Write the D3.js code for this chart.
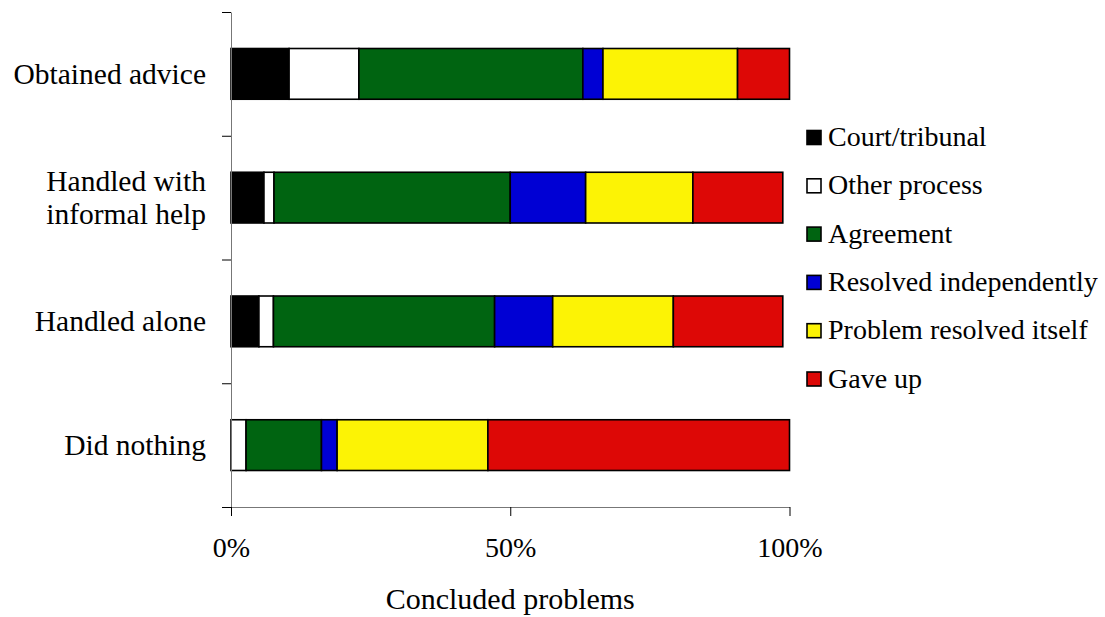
<!DOCTYPE html>
<html>
<head>
<meta charset="utf-8">
<script src="https://cdn.jsdelivr.net/npm/d3@7"></script>
<style>
  html, body { margin: 0; padding: 0; background: #fff; }
  svg text { font-family: "Liberation Serif", "Times New Roman", serif; fill: #000; }
</style>
</head>
<body>
<svg id="chart" width="1105" height="617"></svg>
<script>
// How concluded problems ended, by the strategy people used (percent of problems)
const categories = ["Obtained advice", "Handled with informal help", "Handled alone", "Did nothing"];
const seriesNames = ["Court/tribunal", "Other process", "Agreement", "Resolved independently", "Problem resolved itself", "Gave up"];
const courtTribunal         = [10.4,  5.9,  5.0,  0.0];
const otherProcess          = [12.5,  1.8,  2.6,  2.7];
const agreement             = [40.1, 42.3, 39.6, 13.5];
const resolvedIndependently = [ 3.6, 13.5, 10.4,  2.8];
const resolvedItself        = [24.1, 19.2, 21.6, 27.0];
const gaveUp                = [ 9.3, 16.1, 19.6, 54.0];
const seriesColors = ["#000000", "#ffffff", "#006411", "#0000d4", "#fcf305", "#dd0806"];
const xTickValues = [0, 50, 100];
const xTitle = "Concluded problems";

const seriesValues = [courtTribunal, otherProcess, agreement, resolvedIndependently, resolvedItself, gaveUp];
const rows = categories.map((c, i) => {
  const r = { category: c };
  seriesNames.forEach((s, j) => { r[s] = seriesValues[j][i]; });
  return r;
});

const svg = d3.select("#chart");
const plotTop = 12, plotBottom = 507, plotLeft = 231, plotRight = 789.5;

const x = d3.scaleLinear().domain([0, 100]).range([plotLeft, plotRight]);
const y = d3.scaleBand().domain(categories).range([plotTop, plotBottom])
  .paddingInner(0.59).paddingOuter(0.295);
const yDiv = d3.scaleLinear().domain([0, categories.length]).range([plotTop, plotBottom]);
const color = d3.scaleOrdinal().domain(seriesNames).range(seriesColors);

const stacked = d3.stack().keys(seriesNames)(rows);

// stacked bar segments
const layers = svg.append("g").selectAll("g")
  .data(stacked).join("g")
  .attr("fill", d => color(d.key));
layers.selectAll("rect")
  .data(d => d.filter(p => p[1] - p[0] > 0))
  .join("rect")
  .attr("x", d => x(d[0]))
  .attr("y", d => y(d.data.category))
  .attr("width", d => x(d[1]) - x(d[0]))
  .attr("height", y.bandwidth())
  .attr("stroke", "#000")
  .attr("stroke-width", 1.6);

// vertical category axis: tick marks between categories
const yAxis = svg.append("g")
  .attr("transform", `translate(${plotLeft},0)`)
  .call(d3.axisLeft(yDiv).tickValues(d3.range(categories.length + 1))
    .tickSize(9).tickSizeOuter(0).tickFormat(""));
yAxis.select(".domain").attr("stroke", "#777");
yAxis.selectAll(".tick line").attr("stroke", "#000");

// category labels, wrapped to fit the left margin
const labelSize = 29.5, lineGap = 32.5, maxLabelWidth = 200;
const measure = svg.append("text").attr("font-size", labelSize).attr("visibility", "hidden");
function wrap(label) {
  const words = label.split(" ");
  const lines = [];
  let cur = "";
  words.forEach(w => {
    const test = cur ? cur + " " + w : w;
    measure.text(test);
    if (cur && measure.node().getComputedTextLength() > maxLabelWidth) {
      lines.push(cur); cur = w;
    } else cur = test;
  });
  lines.push(cur);
  return lines;
}
categories.forEach(c => {
  const lines = wrap(c);
  const cy = yDiv(categories.indexOf(c) + 0.5);
  const t = svg.append("text")
    .attr("text-anchor", "end")
    .attr("font-size", labelSize);
  lines.forEach((ln, i) => {
    t.append("tspan")
      .attr("x", 206)
      .attr("y", cy + 10 + (i - (lines.length - 1) / 2) * lineGap)
      .text(ln);
  });
});
measure.remove();

// horizontal value axis
const xAxis = svg.append("g")
  .attr("transform", `translate(0,${plotBottom})`)
  .call(d3.axisBottom(x).tickValues(xTickValues).tickSize(9).tickSizeOuter(0)
    .tickFormat(d => d + "%"));
xAxis.attr("font-family", null).attr("font-size", null);
xAxis.select(".domain").attr("stroke", "#777");
xAxis.selectAll(".tick line").attr("stroke", "#000");
xAxis.selectAll(".tick text")
  .attr("y", 50).attr("dy", 0)
  .attr("font-size", 28);

svg.append("text")
  .attr("x", x(50)).attr("y", 609)
  .attr("text-anchor", "middle")
  .attr("font-size", 30)
  .text(xTitle);

// legend
const legend = svg.append("g").attr("transform", "translate(807,130.5)");
const items = legend.selectAll("g").data(seriesNames).join("g")
  .attr("transform", (d, i) => `translate(0,${i * 48.3})`);
items.append("rect")
  .attr("width", 14).attr("height", 14)
  .attr("fill", d => color(d))
  .attr("stroke", "#000").attr("stroke-width", 1.6);
items.append("text")
  .attr("x", 21).attr("y", 15.5)
  .attr("font-size", 28)
  .text(d => d);
</script>
</body>
</html>
